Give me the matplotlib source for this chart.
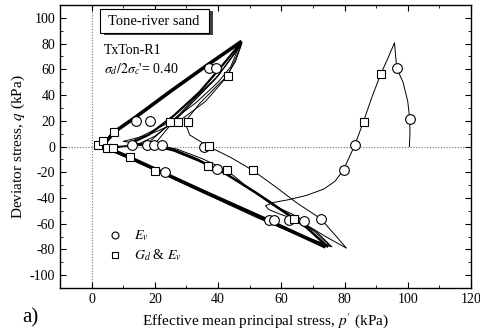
import matplotlib
matplotlib.use("Agg")
import matplotlib.pyplot as plt
from matplotlib.patches import Rectangle

plt.rcParams['font.family'] = ['Liberation Serif', 'DejaVu Serif']
plt.rcParams['mathtext.fontset'] = 'stix'
plt.rcParams['axes.unicode_minus'] = False

# ---- data (p', q) ----
# monotonic loading branch and first unloading
mono_p = [100.5, 100.7, 100.6, 100.0, 98.5, 96.5, 95.8, 93.6, 91.4, 88.6, 86.0, 83.2, 79.7, 77.0, 73.5, 68.0, 62.0, 57.5, 55.0, 56.0, 60.0, 64.5, 66.0, 63.0, 58.5]
mono_q = [0.0, 10.0, 21.7, 35.0, 50.0, 61.0, 80.6, 68.0, 56.0, 38.0, 19.4, 0.8, -18.0, -27.0, -33.0, -38.0, -41.5, -43.5, -46.0, -49.0, -53.0, -56.5, -56.0, -52.0, -47.0]

# first (outer, thin) cycle
c1_p = [58.5, 66.0, 74.0, 80.6, 76.0, 72.4, 65.0, 58.0, 51.0, 44.0, 37.0, 31.0, 29.5, 34.0, 40.0, 43.0, 45.5, 47.5, 44.5, 40.0, 33.0, 26.0, 20.0, 14.0, 7.0, 4.0]
c1_q = [-47.0, -58.0, -70.0, -79.0, -66.0, -56.0, -44.0, -31.0, -18.6, -8.5, 0.0, 9.0, 19.0, 33.0, 48.0, 55.0, 68.0, 80.5, 70.0, 55.0, 37.0, 20.0, 8.0, 1.0, -0.5, -1.0]

# thin intermediate cycles
c2_p = [4.0, 12.0, 24.0, 38.0, 52.0, 64.0, 76.0, 71.0, 64.0, 56.0, 47.0, 39.7, 33.0, 26.0, 22.2, 16.0, 10.0, 18.0, 27.3, 36.0, 42.0, 45.5, 47.5, 44.0, 39.0, 31.0, 24.0, 19.7, 12.0, 5.0]
c2_q = [-1.0, -9.5, -23.0, -39.0, -55.0, -67.5, -78.0, -66.0, -56.0, -42.0, -28.0, -17.8, -9.0, -2.0, 1.0, 2.0, 4.0, 9.0, 19.0, 35.0, 52.0, 66.0, 80.0, 68.0, 52.0, 32.0, 14.0, 1.0, 0.5, 0.0]
c3_p = [5.0, 13.0, 25.0, 40.0, 55.0, 67.0, 75.5, 70.5, 64.0, 57.0, 49.0, 42.9, 35.0, 27.0, 19.7, 12.0, 15.0, 24.8, 33.0, 40.0, 44.0, 47.0, 44.5, 40.0, 32.0, 25.0, 17.5, 12.7, 6.7]
c3_q = [-1.5, -10.0, -23.5, -40.5, -57.0, -69.5, -77.5, -66.0, -56.0, -45.0, -31.0, -18.6, -9.5, -2.0, 1.0, 3.0, 7.0, 19.0, 34.0, 50.0, 62.0, 80.0, 70.0, 55.0, 36.0, 18.0, 2.0, 1.0, -1.5]

# thick (many overlapping cycles) paths
thick_up_p = [5.0, 7.0, 14.0, 25.0, 37.0, 47.0]
thick_up_q = [5.0, 11.0, 23.0, 43.0, 64.0, 81.0]
band_up_p = [12.0, 18.0, 26.0, 34.0, 41.0, 47.0]
band_up_q = [2.0, 9.0, 24.0, 42.0, 62.0, 80.0]
thick_lo_p = [4.8, 12.0, 20.0, 35.0, 55.0, 73.5]
thick_lo_q = [-1.0, -8.5, -17.5, -34.5, -56.5, -77.5]
band_lo_p = [74.5, 68.0, 61.0, 52.0, 42.0, 34.0, 26.0, 20.0]
band_lo_q = [-77.5, -63.0, -51.0, -36.0, -20.5, -11.0, -3.0, 0.5]

# markers: circles (E_v) and squares (G_d & E_v)
circ_p = [100.6, 96.5, 83.2, 79.7, 37.0, 39.5, 14.0, 18.5, 12.7, 17.5, 19.7, 22.2, 35.5, 23.3, 39.7, 56.0, 57.8, 62.3, 67.3, 72.4]
circ_q = [21.7, 61.0, 0.8, -18.0, 61.0, 61.0, 20.0, 20.0, 1.0, 1.0, 1.0, 1.0, 0.0, -20.0, -17.8, -57.0, -57.0, -57.0, -58.0, -56.0]
sq_p = [91.4, 86.0, 43.0, 7.0, 24.8, 27.3, 30.5, 2.0, 3.5, 4.8, 6.7, 37.0, 12.0, 20.0, 36.8, 42.9, 51.0, 64.0]
sq_q = [56.0, 19.4, 55.0, 11.0, 19.0, 19.0, 19.0, 1.5, 4.0, -1.0, -1.5, 0.5, -8.5, -19.0, -15.5, -18.6, -18.6, -56.0]

fig = plt.figure(figsize=(4.81, 3.34), dpi=100)
ax = fig.add_axes([60/481, 46/334, 411/481, 283/334])

ax.axhline(0, color='0.45', lw=0.8, ls=(0, (1, 1.5)), zorder=1)
ax.axvline(0, color='0.45', lw=0.8, ls=(0, (1, 1.5)), zorder=1)

ax.plot(mono_p, mono_q, color='k', lw=0.7, zorder=2)
ax.plot(c1_p, c1_q, color='k', lw=0.7, zorder=2)
ax.plot(c2_p, c2_q, color='k', lw=0.7, zorder=2)
ax.plot(c3_p, c3_q, color='k', lw=0.7, zorder=2)
ax.plot(thick_up_p, thick_up_q, color='k', lw=2.6, zorder=2)
ax.plot(band_up_p, band_up_q, color='k', lw=1.6, zorder=2)
ax.plot(thick_lo_p, thick_lo_q, color='k', lw=2.6, zorder=2)
ax.plot(band_lo_p, band_lo_q, color='k', lw=1.8, zorder=2)

ax.plot(circ_p, circ_q, ls='none', marker='o', ms=7, mfc='white', mec='k', mew=0.8, zorder=3)
ax.plot(sq_p, sq_q, ls='none', marker='s', ms=6, mfc='white', mec='k', mew=0.8, zorder=3)

ax.set_xlim(-10, 120)
ax.set_ylim(-110, 110)
ax.set_xticks(range(0, 121, 20))
ax.set_xticks(range(-10, 121, 10), minor=True)
ax.set_yticks(range(-100, 101, 20))
ax.set_yticks(range(-110, 111, 10), minor=True)
ax.tick_params(which='both', direction='in', top=True, right=True, labelsize=10)
ax.tick_params(which='major', length=4, width=0.8)
ax.tick_params(which='minor', length=2, width=0.6)
for s in ax.spines.values():
    s.set_linewidth(1.0)

ax.set_xlabel("Effective mean principal stress, $p'$ (kPa)", fontsize=11, labelpad=4)
ax.set_ylabel("Deviator stress, $q$ (kPa)", fontsize=11, labelpad=2)

# title box with shadow
ax.add_patch(Rectangle((4.0, 86.5), 34.5, 19.0, facecolor='0.25', edgecolor='none', zorder=4))
ax.add_patch(Rectangle((2.5, 88.0), 34.5, 19.0, facecolor='white', edgecolor='k', lw=0.8, zorder=5))
ax.text(19.75, 97.5, "Tone-river sand", ha='center', va='center', fontsize=10.5, zorder=6)
ax.text(4.0, 75.0, "TxTon-R1", ha='left', va='center', fontsize=10)
ax.text(4.0, 60.5, r"$\sigma_d/2\sigma_c$'= 0.40", ha='left', va='center', fontsize=10)

# legend
ax.plot([7.3], [-69], ls='none', marker='o', ms=5, mfc='white', mec='k', mew=0.8)
ax.plot([7.3], [-84.5], ls='none', marker='s', ms=4, mfc='white', mec='k', mew=0.8)
ax.text(13.5, -69, r"$E_v$", ha='left', va='center', fontsize=10)
ax.text(13.5, -84.5, r"$G_d$ & $E_v$", ha='left', va='center', fontsize=10)

fig.text(22/481, 1 - 318/334, "a)", fontsize=15, ha='left', va='center')

fig.savefig("out.png", dpi=100)
